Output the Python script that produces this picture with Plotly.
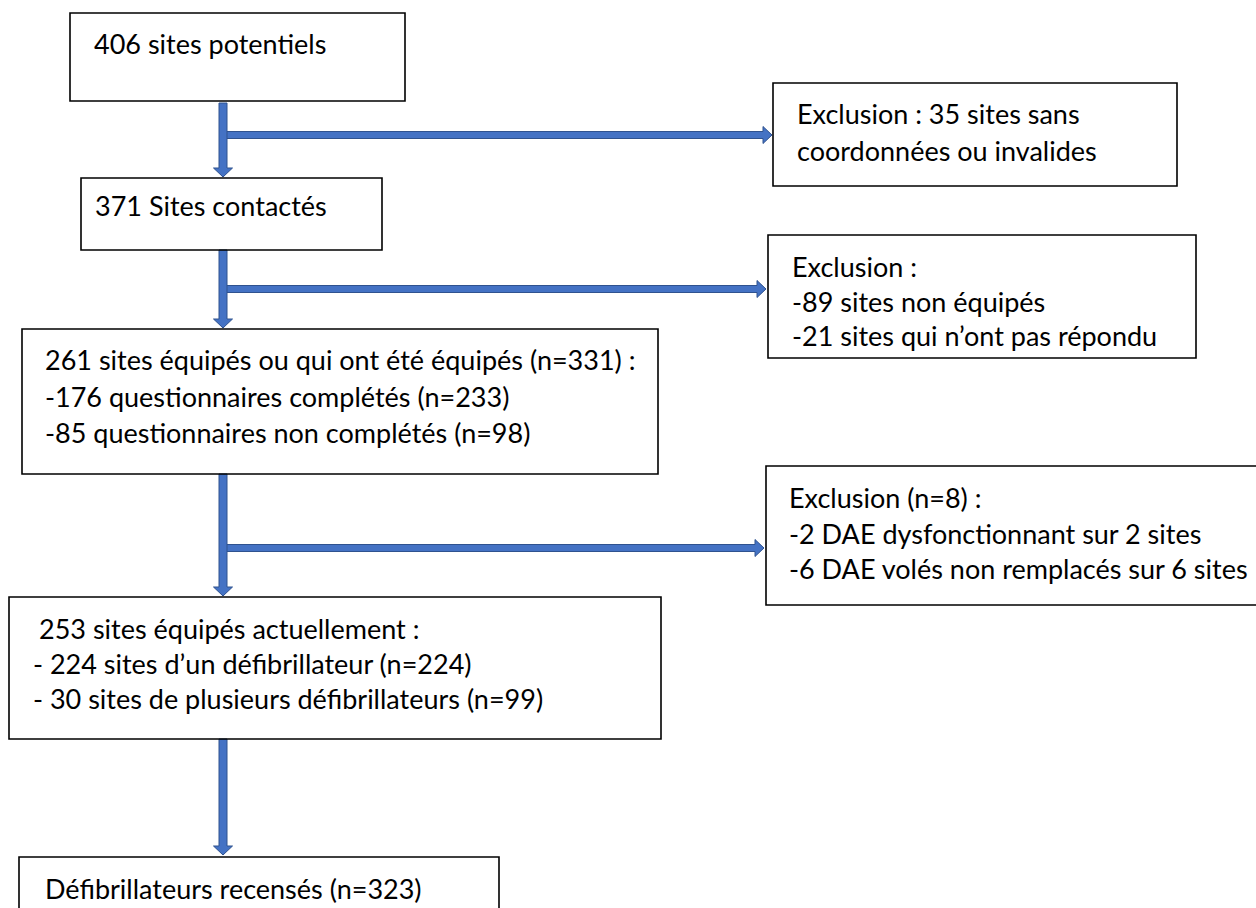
import plotly.graph_objects as go

W, H = 1256, 908

# ---- content (flowchart text) ----
box_lines = [
    ["406 sites potentiels"],
    ["371 Sites contactés"],
    ["Exclusion : 35 sites sans", "coordonnées ou invalides"],
    ["Exclusion :", "-89 sites non équipés", "-21 sites qui n’ont pas répondu"],
    ["261 sites équipés ou qui ont été équipés (n=331) :",
     "-176 questionnaires complétés (n=233)",
     "-85 questionnaires non complétés (n=98)"],
    ["Exclusion (n=8) :", "-2 DAE dysfonctionnant sur 2 sites",
     "-6 DAE volés non remplacés sur 6 sites"],
    ["253 sites équipés actuellement :",
     "- 224 sites d’un défibrillateur (n=224)",
     "- 30 sites de plusieurs défibrillateurs (n=99)"],
    ["Défibrillateurs recensés (n=323)"],
]

# ---- layout geometry (pixels) ----
box_rects = [
    (70, 13, 405, 101),
    (81, 178, 382, 250),
    (773, 83, 1177, 186),
    (768, 235, 1196, 358),
    (22, 329, 658, 474),
    (766, 466, 1262, 605),
    (9, 597, 661, 739),
    (19, 857, 499, 915),
]
text_x = [[92], [93], [795, 795], [790, 790, 790], [43, 43, 43],
          [787, 787, 787], [37, 31, 31], [43]]
text_y = [[43], [205], [113, 150], [266, 301, 335], [359, 396, 432],
          [497, 533, 568], [628, 663, 698], [888]]

spine_x = 223
v_arrows = [(103, 177), (250, 328), (474, 596), (739, 855)]
h_arrows = [(135, 772), (289, 766), (548, 764)]

FILL = "#4472C4"
EDGE = "#2F528F"
FONT = "Lato"
FS = 27

shapes = []
# horizontal branches first
for (y, xend) in h_arrows:
    w, hw, hl = 3.5, 8.5, 9
    x0 = spine_x
    path = (f"M {x0},{y-w} L {xend-hl},{y-w} L {xend-hl},{y-hw} L {xend},{y} "
            f"L {xend-hl},{y+hw} L {xend-hl},{y+w} L {x0},{y+w} Z")
    shapes.append(dict(type="path", path=path, fillcolor=FILL,
                       line=dict(color=EDGE, width=1), xref="x", yref="y", layer="above"))
for (y0, y1) in v_arrows:
    w, hw, hl = 4, 9.5, 9
    x = spine_x
    path = (f"M {x-w},{y0} L {x+w},{y0} L {x+w},{y1-hl} L {x+hw},{y1-hl} L {x},{y1} "
            f"L {x-hw},{y1-hl} L {x-w},{y1-hl} Z")
    shapes.append(dict(type="path", path=path, fillcolor=FILL,
                       line=dict(color=EDGE, width=1), xref="x", yref="y", layer="above"))
for (x0, y0, x1, y1) in box_rects:
    shapes.append(dict(type="rect", x0=x0, y0=y0, x1=x1, y1=y1,
                       line=dict(color="black", width=1.6), fillcolor="rgba(0,0,0,0)",
                       xref="x", yref="y", layer="above"))

annotations = []
for lines, xs, ys in zip(box_lines, text_x, text_y):
    for t, x, y in zip(lines, xs, ys):
        annotations.append(dict(x=x, y=y, xref="x", yref="y", text=t,
                                showarrow=False, xanchor="left", yanchor="middle",
                                font=dict(family=FONT, size=FS, color="black")))

fig = go.Figure()
fig.update_layout(
    width=W, height=H, margin=dict(l=0, r=0, t=0, b=0),
    paper_bgcolor="white", plot_bgcolor="white",
    xaxis=dict(range=[0, W], visible=False, fixedrange=True),
    yaxis=dict(range=[H, 0], visible=False, fixedrange=True),
    shapes=shapes, annotations=annotations, showlegend=False,
)
fig.write_html("out.html", config={"displayModeBar": False},
               post_script="document.body.style.margin='0px';document.body.style.overflow='hidden';")
